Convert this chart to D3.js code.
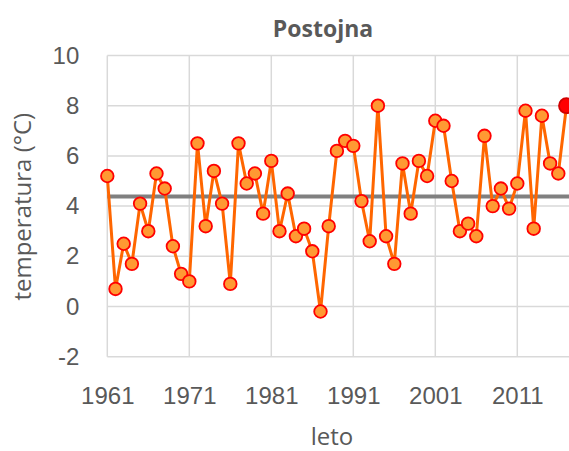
<!DOCTYPE html>
<meta charset="utf-8">
<style>
body { margin: 0; }
svg { font-family: "Open Sans", sans-serif; }
.grid line { stroke: #d9d9d9; stroke-width: 1.5px; }
.axis text { fill: #595959; font-size: 24px; }
.axis path { display: none; }
.serija { fill: none; stroke: #ff6600; stroke-width: 3px; }
.povp { stroke: #808080; stroke-width: 4px; }
</style>
<svg width="569" height="451"></svg>
<script src="https://cdn.jsdelivr.net/npm/d3@7"></script>
<script>
// povprecna letna temperatura, Postojna
var leta = d3.range(1961, 2018);
var temperature = [
  5.2, 0.7, 2.5, 1.7, 4.1, 3.0, 5.3, 4.7, 2.4, 1.3,
  1.0, 6.5, 3.2, 5.4, 4.1, 0.9, 6.5, 4.9, 5.3, 3.7,
  5.8, 3.0, 4.5, 2.8, 3.1, 2.2, -0.2, 3.2, 6.2, 6.6,
  6.4, 4.2, 2.6, 8.0, 2.8, 1.7, 5.7, 3.7, 5.8, 5.2,
  7.4, 7.2, 5.0, 3.0, 3.3, 2.8, 6.8, 4.0, 4.7, 3.9,
  4.9, 7.8, 3.1, 7.6, 5.7, 5.3, 8.0
];
var povprecje = 4.38;   // povprecje 1981-2010
var xTicks = [1961, 1971, 1981, 1991, 2001, 2011];
var yTicks = [-2, 0, 2, 4, 6, 8, 10];

var data = leta.map(function(l, i) { return {leto: l, t: temperature[i]}; });

var svg = d3.select("svg"),
    pLeft = 107.3, pTop = 55.5, pBottom = 356.7, pRight = 569;

var x = d3.scaleLinear().domain([1961, 2017]).range([pLeft, 566.5]),
    y = d3.scaleLinear().domain([-2, 10]).range([pBottom, pTop]);

// mreza
var grid = svg.append("g").attr("class", "grid");
grid.selectAll(".h").data(yTicks).enter().append("line")
    .attr("x1", pLeft).attr("x2", pRight)
    .attr("y1", function(d) { return y(d); })
    .attr("y2", function(d) { return y(d); });
grid.selectAll(".v").data(xTicks).enter().append("line")
    .attr("x1", function(d) { return x(d); })
    .attr("x2", function(d) { return x(d); })
    .attr("y1", pTop).attr("y2", pBottom);

// osi
svg.append("g")
    .attr("class", "axis")
    .attr("transform", "translate(" + pLeft + ",0)")
    .call(d3.axisLeft(y).tickValues(yTicks).tickFormat(function(d) { return "" + d; })
      .tickSize(0).tickPadding(28));

svg.append("g")
    .attr("class", "axis")
    .attr("transform", "translate(0," + pBottom + ")")
    .call(d3.axisBottom(x).tickValues(xTicks).tickFormat(function(d) { return "" + d; })
      .tickSize(0).tickPadding(30));

svg.selectAll(".axis .tick line").remove();

// povprecje
svg.append("line")
    .attr("class", "povp")
    .attr("x1", pLeft).attr("x2", pRight)
    .attr("y1", y(povprecje)).attr("y2", y(povprecje));

// serija
var line = d3.line()
    .x(function(d) { return x(d.leto); })
    .y(function(d) { return y(d.t); });

svg.append("path")
    .datum(data)
    .attr("class", "serija")
    .attr("d", line);

svg.selectAll(".tocka")
    .data(data)
  .enter().append("circle")
    .attr("class", "tocka")
    .attr("cx", function(d) { return x(d.leto); })
    .attr("cy", function(d) { return y(d.t); })
    .attr("r", function(d, i) { return i == data.length - 1 ? 7.5 : 6.3; })
    .attr("fill", function(d, i) { return i == data.length - 1 ? "#ff0000" : "#ff9933"; })
    .attr("stroke", function(d, i) { return i == data.length - 1 ? "#d00000" : "#ff0000"; })
    .attr("stroke-width", 1.8);

// naslovi
svg.append("text")
    .attr("x", 323).attr("y", 37.3)
    .attr("text-anchor", "middle")
    .style("font-size", "23px").style("font-weight", "bold").style("fill", "#595959")
    .text("Postojna");

svg.append("text")
    .attr("x", 332).attr("y", 445)
    .attr("text-anchor", "middle")
    .style("font-size", "24px").style("fill", "#595959")
    .text("leto");

svg.append("text")
    .attr("transform", "translate(31,206.7) rotate(-90)")
    .attr("text-anchor", "middle")
    .style("font-size", "24px").style("fill", "#595959")
    .text("temperatura (°C)");
</script>
